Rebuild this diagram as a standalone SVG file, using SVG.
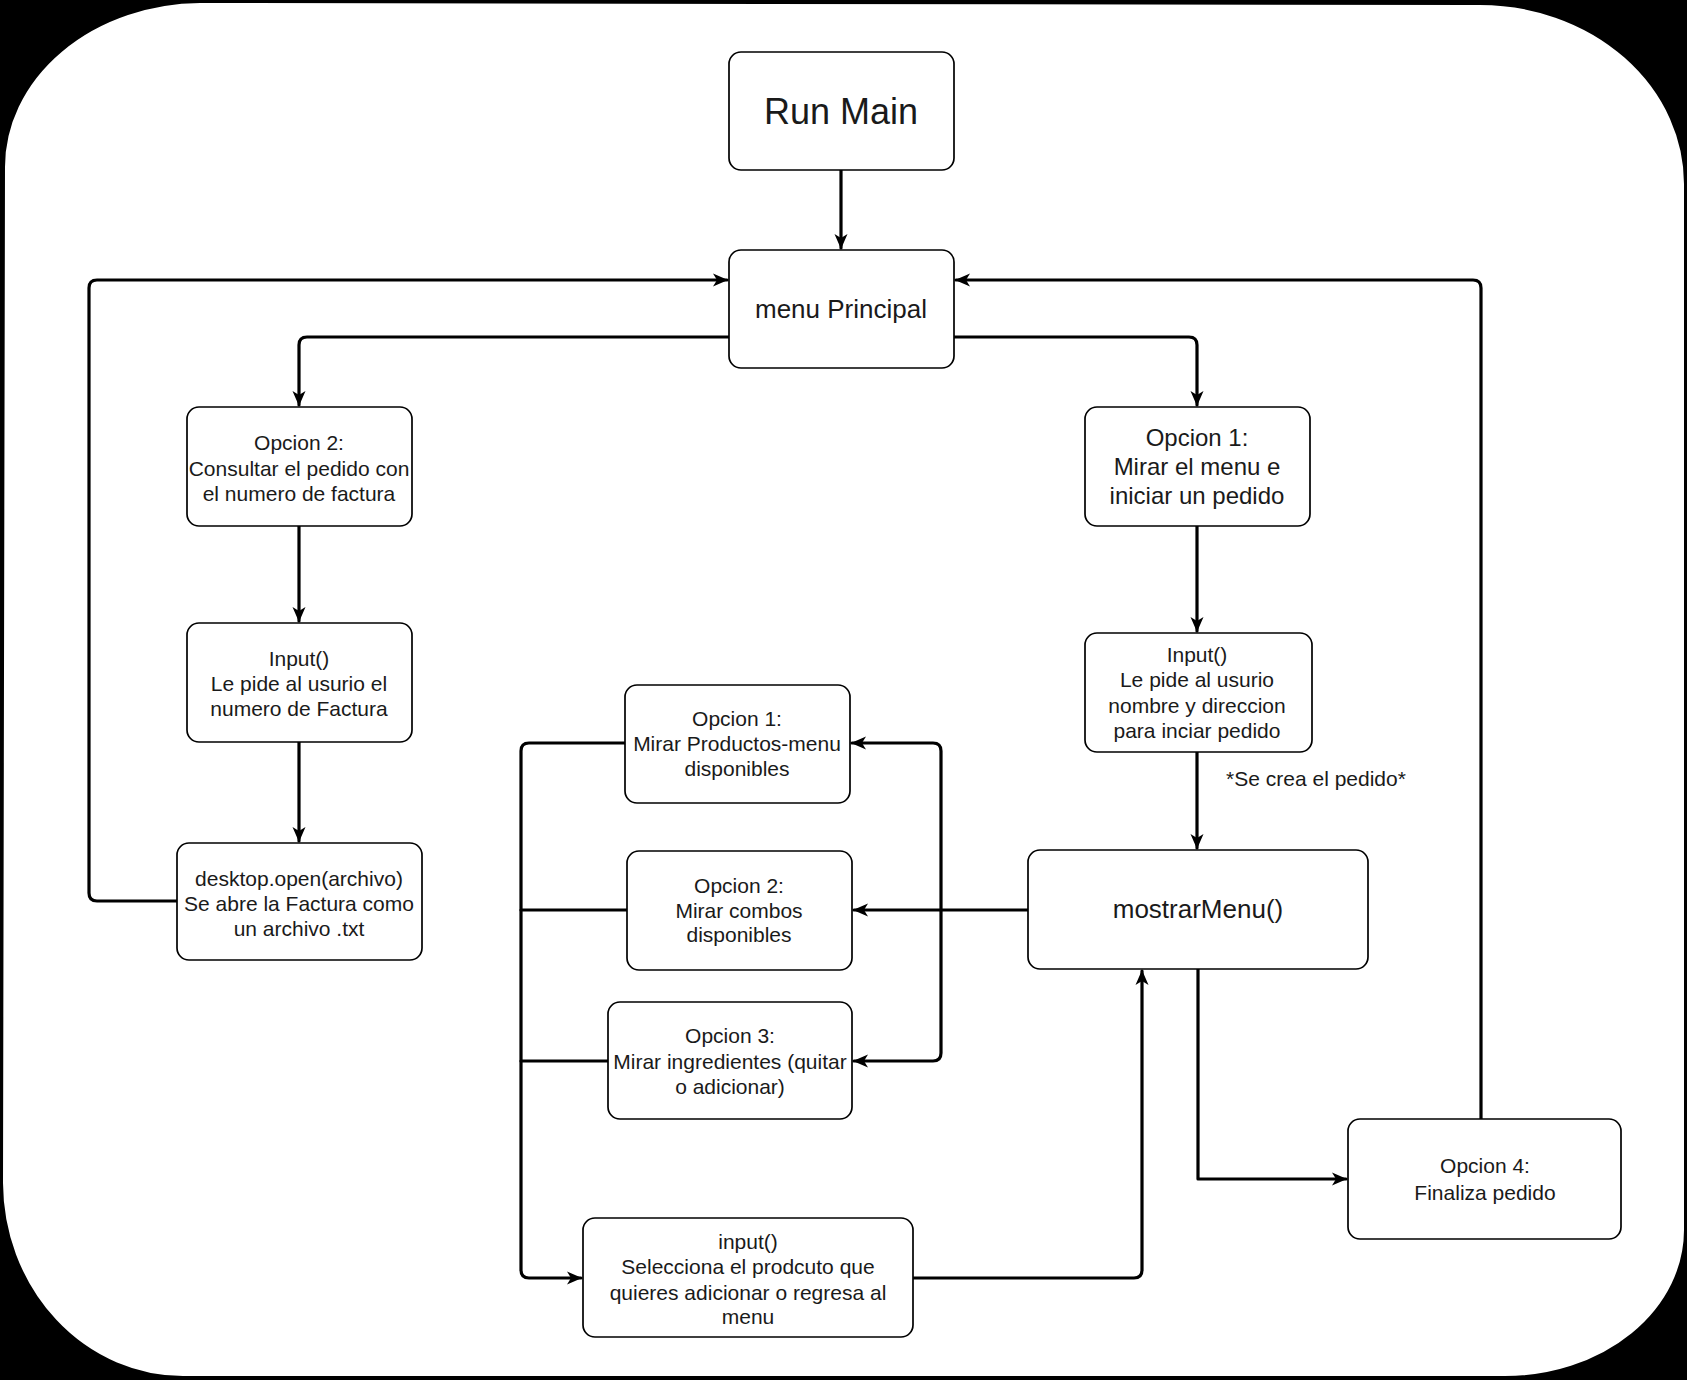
<svg xmlns="http://www.w3.org/2000/svg" width="1687" height="1380" viewBox="0 0 1687 1380">
<defs>
<marker id="arr" markerUnits="userSpaceOnUse" markerWidth="16" markerHeight="14" refX="14" refY="7" orient="auto">
<path d="M0,0.5 L15,7 L0,13.5 L4,7 Z" fill="#000"/>
</marker>
<style>
.box{fill:#fff;stroke:#000;stroke-width:1.7}
.t{font-family:"Liberation Sans",Arial,Helvetica,sans-serif;font-size:21px;fill:#1a1a1a;text-anchor:middle}
.c{fill:none;stroke:#000;stroke-width:3.2;stroke-linejoin:round;stroke-linecap:round}
</style>
</defs>
<rect x="0" y="0" width="1687" height="1380" fill="#000"/>
<path id="frame" d="M200,2 L1480,4 A205,180 0 0 1 1685,185 L1685,1230 A180,147 0 0 1 1505,1377 L183,1377 A181,195 0 0 1 2,1183 L4,167 A198,165 0 0 1 200,2 Z" fill="#fff" stroke="#000" stroke-width="2"/>

<g id="connectors">
<path class="c" d="M841,170 L841,248" marker-end="url(#arr)"/>
<path class="c" d="M177,901 L97,901 Q89,901 89,893 L89,288 Q89,280 97,280 L727,280" marker-end="url(#arr)"/>
<path class="c" d="M729,337 L307,337 Q299,337 299,345 L299,405" marker-end="url(#arr)"/>
<path class="c" d="M954,337 L1189,337 Q1197,337 1197,345 L1197,405" marker-end="url(#arr)"/>
<path class="c" d="M299,526 L299,621" marker-end="url(#arr)"/>
<path class="c" d="M299,742 L299,841" marker-end="url(#arr)"/>
<path class="c" d="M1197,526 L1197,631" marker-end="url(#arr)"/>
<path class="c" d="M1197,752 L1197,848" marker-end="url(#arr)"/>
<path class="c" d="M1028,910 L854,910" marker-end="url(#arr)"/>
<path class="c" d="M941,910 L941,751 Q941,743 933,743 L852,743" marker-end="url(#arr)"/>
<path class="c" d="M941,910 L941,1053 Q941,1061 933,1061 L854,1061" marker-end="url(#arr)"/>
<path class="c" d="M625,743 L529,743 Q521,743 521,751 L521,1270 Q521,1278 529,1278 L581,1278" marker-end="url(#arr)"/>
<path class="c" d="M627,910 L521,910"/>
<path class="c" d="M608,1061 L521,1061"/>
<path class="c" d="M913,1278 L1134,1278 Q1142,1278 1142,1270 L1142,971" marker-end="url(#arr)"/>
<path class="c" d="M1198,969 L1198,1179 L1346,1179" marker-end="url(#arr)"/>
<path class="c" d="M1481,1119 L1481,288 Q1481,280 1473,280 L956,280" marker-end="url(#arr)"/>
<text class="t" x="1316" y="786">*Se crea el pedido*</text>
</g>

<g id="run-main">
<rect class="box" x="729" y="52" width="225" height="118" rx="12"/>
<text class="t" x="841" y="124" style="font-size:36px">Run Main</text>
</g>
<g id="menu-principal">
<rect class="box" x="729" y="250" width="225" height="118" rx="12"/>
<text class="t" x="841" y="318" style="font-size:26px">menu Principal</text>
</g>
<g id="opcion2-consultar">
<rect class="box" x="187" y="407" width="225" height="119" rx="12"/>
<text class="t" x="299" y="450">Opcion 2:</text>
<text class="t" x="299" y="476">Consultar el pedido con</text>
<text class="t" x="299" y="501">el numero de factura</text>
</g>
<g id="input-factura">
<rect class="box" x="187" y="623" width="225" height="119" rx="12"/>
<text class="t" x="299" y="666">Input()</text>
<text class="t" x="299" y="691">Le pide al usurio el</text>
<text class="t" x="299" y="716">numero de Factura</text>
</g>
<g id="desktop-open">
<rect class="box" x="177" y="843" width="245" height="117" rx="12"/>
<text class="t" x="299" y="886">desktop.open(archivo)</text>
<text class="t" x="299" y="911">Se abre la Factura como</text>
<text class="t" x="299" y="936">un archivo .txt</text>
</g>
<g id="opcion1-menu">
<rect class="box" x="1085" y="407" width="225" height="119" rx="12"/>
<text class="t" x="1197" y="446" style="font-size:24px">Opcion 1:</text>
<text class="t" x="1197" y="475" style="font-size:24px">Mirar el menu e</text>
<text class="t" x="1197" y="504" style="font-size:24px">iniciar un pedido</text>
</g>
<g id="input-nombre">
<rect class="box" x="1085" y="633" width="227" height="119" rx="12"/>
<text class="t" x="1197" y="662">Input()</text>
<text class="t" x="1197" y="687">Le pide al usurio</text>
<text class="t" x="1197" y="713">nombre y direccion</text>
<text class="t" x="1197" y="738">para inciar pedido</text>
</g>
<g id="mostrar-menu">
<rect class="box" x="1028" y="850" width="340" height="119" rx="12"/>
<text class="t" x="1198" y="918" style="font-size:26px">mostrarMenu()</text>
</g>
<g id="opcion1-productos">
<rect class="box" x="625" y="685" width="225" height="118" rx="12"/>
<text class="t" x="737" y="726">Opcion 1:</text>
<text class="t" x="737" y="751">Mirar Productos-menu</text>
<text class="t" x="737" y="776">disponibles</text>
</g>
<g id="opcion2-combos">
<rect class="box" x="627" y="851" width="225" height="119" rx="12"/>
<text class="t" x="739" y="893">Opcion 2:</text>
<text class="t" x="739" y="918">Mirar combos</text>
<text class="t" x="739" y="942">disponibles</text>
</g>
<g id="opcion3-ingredientes">
<rect class="box" x="608" y="1002" width="244" height="117" rx="12"/>
<text class="t" x="730" y="1043">Opcion 3:</text>
<text class="t" x="730" y="1069">Mirar ingredientes (quitar</text>
<text class="t" x="730" y="1094">o adicionar)</text>
</g>
<g id="input-seleccion">
<rect class="box" x="583" y="1218" width="330" height="119" rx="12"/>
<text class="t" x="748" y="1249">input()</text>
<text class="t" x="748" y="1274">Selecciona el prodcuto que</text>
<text class="t" x="748" y="1300">quieres adicionar o regresa al</text>
<text class="t" x="748" y="1324">menu</text>
</g>
<g id="opcion4-finaliza">
<rect class="box" x="1348" y="1119" width="273" height="120" rx="12"/>
<text class="t" x="1485" y="1173">Opcion 4:</text>
<text class="t" x="1485" y="1200">Finaliza pedido</text>
</g>
</svg>
